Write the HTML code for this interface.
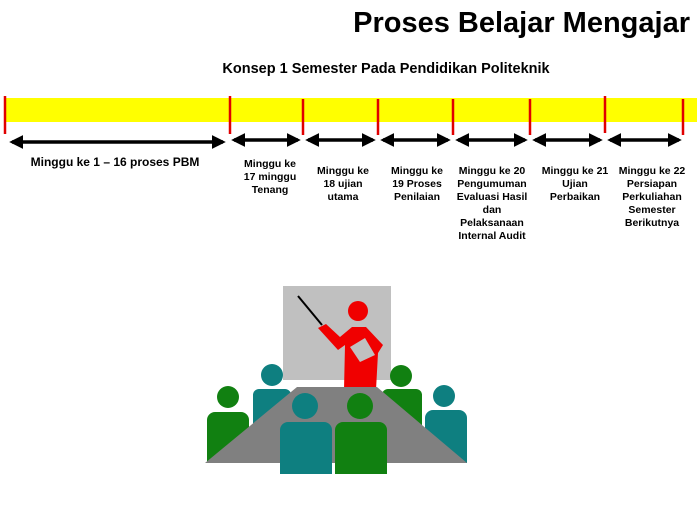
<!DOCTYPE html>
<html><head><meta charset="utf-8"><style>
html,body{margin:0;padding:0;background:#fff;}
svg{display:block;}
text{font-family:"Liberation Sans",sans-serif;font-weight:bold;}
</style></head><body>
<svg width="700" height="525" viewBox="0 0 700 525" xmlns="http://www.w3.org/2000/svg">
<defs>
<marker id="a" markerWidth="4" markerHeight="4" refX="3.2" refY="2" orient="auto-start-reverse" markerUnits="strokeWidth"><path d="M0,0 L4,2 L0,4 z" fill="#000"/></marker>
</defs>
<text x="690" y="32" text-anchor="end" font-size="29" fill="#000">Proses Belajar Mengajar</text>
<text x="386" y="73" text-anchor="middle" font-size="14.5" fill="#000">Konsep 1 Semester Pada Pendidikan Politeknik</text>
<rect x="5" y="98" width="692" height="24" fill="#ffff00"/>
<g stroke="#e00000" stroke-width="2.5">
<line x1="5" y1="96" x2="5" y2="134"/>
<line x1="230" y1="96" x2="230" y2="134"/>
<line x1="303" y1="99" x2="303" y2="135"/>
<line x1="378" y1="99" x2="378" y2="135"/>
<line x1="453" y1="99" x2="453" y2="135"/>
<line x1="530" y1="99" x2="530" y2="135"/>
<line x1="605" y1="96" x2="605" y2="133"/>
<line x1="683" y1="99" x2="683" y2="135"/>
</g>
<g stroke="#000" stroke-width="3.5" marker-start="url(#a)" marker-end="url(#a)">
<line x1="12" y1="142" x2="223" y2="142"/>
<line x1="234" y1="140" x2="298" y2="140"/>
<line x1="308" y1="140" x2="373" y2="140"/>
<line x1="383" y1="140" x2="448" y2="140"/>
<line x1="458" y1="140" x2="525" y2="140"/>
<line x1="535" y1="140" x2="600" y2="140"/>
<line x1="610" y1="140" x2="679" y2="140"/>
</g>
<g font-size="10.5" text-anchor="middle" fill="#000">
<text x="115" y="166" font-size="12">Minggu ke 1 – 16 proses PBM</text>
<text x="270" y="167">Minggu ke</text><text x="270" y="180">17  minggu</text><text x="270" y="193">Tenang</text>
<text x="343" y="174">Minggu ke</text><text x="343" y="187">18  ujian</text><text x="343" y="200">utama</text>
<text x="417" y="174">Minggu ke</text><text x="417" y="187">19  Proses</text><text x="417" y="200">Penilaian</text>
<text x="492" y="174">Minggu ke 20</text><text x="492" y="187">Pengumuman</text><text x="492" y="200">Evaluasi Hasil</text><text x="492" y="213">dan</text><text x="492" y="226">Pelaksanaan</text><text x="492" y="239">Internal Audit</text>
<text x="575" y="174">Minggu ke 21</text><text x="575" y="187">Ujian</text><text x="575" y="200">Perbaikan</text>
<text x="652" y="174">Minggu ke 22</text><text x="652" y="187">Persiapan</text><text x="652" y="200">Perkuliahan</text><text x="652" y="213">Semester</text><text x="652" y="226">Berikutnya</text>
</g>
<rect x="283" y="286" width="108" height="94" fill="#c0c0c0"/>
<line x1="298" y1="296" x2="322" y2="325" stroke="#000" stroke-width="2"/>
<circle cx="358" cy="311" r="10" fill="#f00000"/>
<path d="M318,328 L326,324 L340,337 L352,327 L366,327 L383,345 L378,353 L376,390 L344,390 L345,345 L338,350 Z" fill="#f00000"/>
<path d="M350,347 L365,338 L375,355 L360,362 Z" fill="#c0c0c0"/>
<circle cx="228" cy="397" r="11" fill="#118011"/>
<path d="M207,420 a8,8 0 0 1 8,-8 h26 a8,8 0 0 1 8,8 v43 h-42 Z" fill="#118011"/>
<circle cx="272" cy="375" r="11" fill="#0e7f80"/>
<path d="M253,395 a6,6 0 0 1 6,-6 h26 a6,6 0 0 1 6,6 v55 h-38 Z" fill="#0e7f80"/>
<circle cx="401" cy="376" r="11" fill="#118011"/>
<path d="M382,395 a6,6 0 0 1 6,-6 h28 a6,6 0 0 1 6,6 v60 h-40 Z" fill="#118011"/>
<circle cx="444" cy="396" r="11" fill="#0e7f80"/>
<path d="M425,418 a8,8 0 0 1 8,-8 h26 a8,8 0 0 1 8,8 v45 h-42 Z" fill="#0e7f80"/>
<polygon points="297,387 377,387 467,463 205,463" fill="#808080"/>
<circle cx="305" cy="406" r="13" fill="#0e7f80"/>
<path d="M280,430 a8,8 0 0 1 8,-8 h36 a8,8 0 0 1 8,8 v44 h-52 Z" fill="#0e7f80"/>
<circle cx="360" cy="406" r="13" fill="#118011"/>
<path d="M335,430 a8,8 0 0 1 8,-8 h36 a8,8 0 0 1 8,8 v44 h-52 Z" fill="#118011"/>
</svg>
</body></html>
